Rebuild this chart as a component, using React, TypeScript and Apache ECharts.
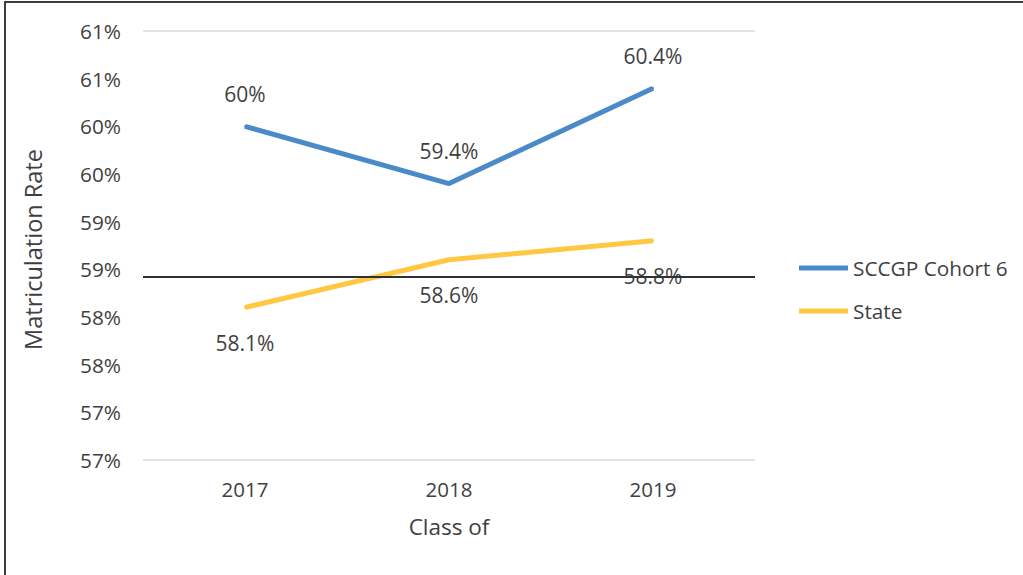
import React, { useEffect, useRef } from "react";
import * as echarts from "echarts";

const categories = ["2017", "2018", "2019"];
const cohortValues = [60.0, 59.4, 60.4];
const stateValues = [58.1, 58.6, 58.8];
const seriesNames = ["SCCGP Cohort 6", "State"];
const yMin = 56.5;
const yMax = 61.0;
const yStep = 0.5;
const crossValue = 58.42;

const FONT = "'Open Sans', 'Noto Sans', sans-serif";
const TEXT = "#3f3f3f";

export default function App() {
  const ref = useRef<HTMLDivElement>(null);
  useEffect(() => {
    document.body.style.margin = "0";
    const chart = echarts.init(ref.current!, undefined, { renderer: "svg" });
    chart.setOption({
      animation: false,
      backgroundColor: "#ffffff",
      textStyle: { fontFamily: FONT, color: TEXT },
      grid: { left: 143, right: 268, top: 31, bottom: 115, containLabel: false },
      legend: {
        orient: "vertical",
        left: 799,
        top: 256,
        padding: 0,
        icon: "rect",
        itemWidth: 49,
        itemHeight: 5,
        itemGap: 19,
        data: seriesNames,
        textStyle: { fontFamily: FONT, fontSize: 20.8, color: TEXT, lineHeight: 24, padding: [0, 0, 0, 0] },
      },
      xAxis: {
        type: "category",
        data: categories,
        boundaryGap: true,
        axisLine: { show: false },
        axisTick: { show: false },
        axisLabel: { fontFamily: FONT, fontSize: 20.5, color: TEXT, margin: 18 },
        name: "Class of",
        nameLocation: "middle",
        nameGap: 55,
        nameTextStyle: { fontFamily: FONT, fontSize: 22.5, color: TEXT },
      },
      yAxis: {
        type: "value",
        min: yMin,
        max: yMax,
        interval: yStep,
        axisLine: { show: false },
        axisTick: { show: false },
        splitLine: { show: false },
        axisLabel: {
          fontFamily: FONT,
          fontSize: 20.8,
          color: TEXT,
          margin: 22,
          formatter: (v: number) => Math.round(v) + "%",
        },
        name: "Matriculation Rate",
        nameLocation: "middle",
        nameGap: 98,
        nameTextStyle: { fontFamily: FONT, fontSize: 23.5, color: TEXT, padding: [0, 8, 0, 0] },
      },
      series: [
        {
          name: seriesNames[0],
          type: "line",
          data: cohortValues,
          symbol: "circle",
          symbolSize: 2,
          color: "#4A8AC9",
          itemStyle: { color: "#4A8AC9" },
          lineStyle: { width: 5, color: "#4A8AC9" },
          label: {
            show: true,
            position: "top",
            distance: 21,
            fontFamily: FONT,
            fontSize: 21,
            color: TEXT,
            formatter: (p: any) => p.value + "%",
          },
          markLine: {
            silent: true,
            symbol: "none",
            label: { show: false },
            data: [
              { yAxis: yMin, lineStyle: { color: "#e2e2e2", width: 2, type: "solid" } },
              { yAxis: yMax, lineStyle: { color: "#e2e2e2", width: 2, type: "solid" } },
              { yAxis: crossValue, lineStyle: { color: "#2e3236", width: 2, type: "solid" } },
            ],
          },
        },
        {
          name: seriesNames[1],
          type: "line",
          data: stateValues,
          symbol: "circle",
          symbolSize: 2,
          color: "#FFC742",
          itemStyle: { color: "#FFC742" },
          lineStyle: { width: 5, color: "#FFC742" },
          label: {
            show: true,
            position: "bottom",
            distance: 24,
            fontFamily: FONT,
            fontSize: 21,
            color: TEXT,
            formatter: (p: any) => p.value + "%",
          },
        },
      ],
      graphic: [
        { type: "line", shape: { x1: 4, y1: 2, x2: 1023, y2: 2 }, style: { stroke: "#3a3e43", lineWidth: 2 } },
        { type: "line", shape: { x1: 5, y1: 1, x2: 5, y2: 575 }, style: { stroke: "#3a3e43", lineWidth: 2 } },
      ],
    });
    return () => chart.dispose();
  }, []);
  return <div ref={ref} style={{ width: 1023, height: 575 }} />;
}
